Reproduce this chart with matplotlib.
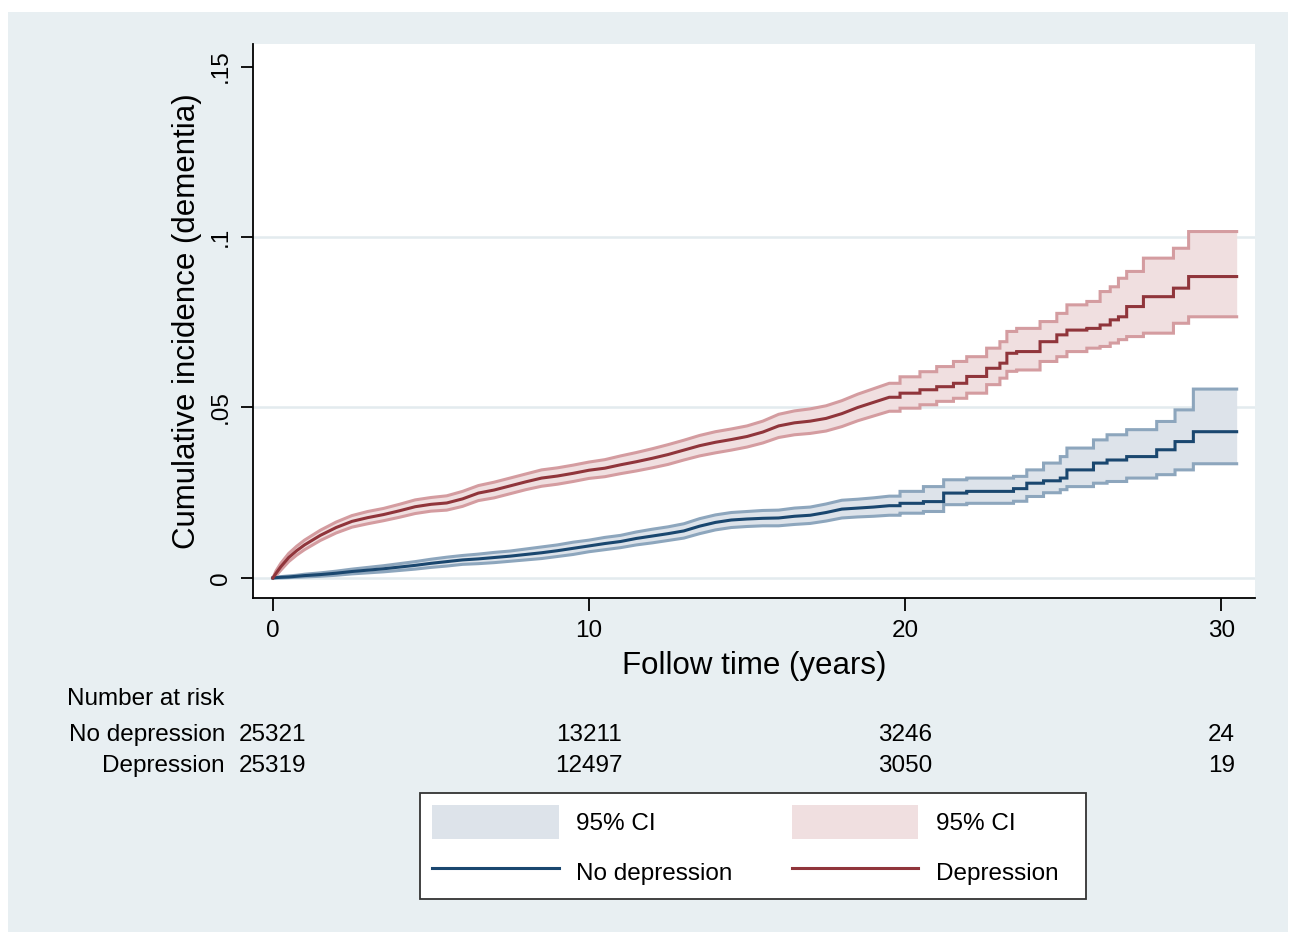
import matplotlib
matplotlib.use("Agg")
import matplotlib.pyplot as plt
from matplotlib.patches import Rectangle, Patch
from matplotlib.lines import Line2D
from matplotlib import transforms

plt.rcParams['font.family'] = ['Liberation Sans', 'DejaVu Sans']

# ---------------- data ----------------
end_time = 30.49

# dense-event part (many small steps -> drawn as a smooth trace)
smooth_t = [0, 0.1, 0.25, 0.5, 0.75, 1.0, 1.5, 2.0, 2.5, 3.0, 3.5, 4.0, 4.5, 5.0, 5.5,
            6.0, 6.5, 7.0, 7.5, 8.0, 8.5, 9.0, 9.5, 10.0, 10.5, 11.0, 11.5, 12.0, 12.5,
            13.0, 13.5, 14.0, 14.5, 15.0, 15.5, 16.0, 16.5, 17.0, 17.5, 18.0, 18.5,
            19.0, 19.5]

dep_est = [0, 0.0014, 0.0033, 0.0060, 0.0080, 0.0097, 0.0125, 0.0148, 0.0166, 0.0177,
           0.0186, 0.0197, 0.0209, 0.0216, 0.0220, 0.0232, 0.0249, 0.0258, 0.0270, 0.0282,
           0.0293, 0.0299, 0.0307, 0.0316, 0.0322, 0.0332, 0.0341, 0.0351, 0.0362, 0.0375,
           0.0388, 0.0398, 0.0406, 0.0415, 0.0428, 0.0446, 0.0455, 0.0460, 0.0468, 0.0482,
           0.0500, 0.0515, 0.0530]
dep_lo = [0, 0.0007, 0.0023, 0.0048, 0.0067, 0.0083, 0.0110, 0.0132, 0.0149, 0.0159,
          0.0168, 0.0178, 0.0189, 0.0196, 0.0199, 0.0210, 0.0227, 0.0235, 0.0247, 0.0259,
          0.0269, 0.0275, 0.0283, 0.0292, 0.0297, 0.0306, 0.0314, 0.0323, 0.0333, 0.0346,
          0.0358, 0.0367, 0.0375, 0.0384, 0.0396, 0.0412, 0.0420, 0.0424, 0.0431, 0.0444,
          0.0461, 0.0475, 0.0489]
dep_hi = [0, 0.0021, 0.0043, 0.0072, 0.0093, 0.0111, 0.0140, 0.0164, 0.0183, 0.0195,
          0.0204, 0.0216, 0.0229, 0.0236, 0.0241, 0.0254, 0.0271, 0.0281, 0.0293, 0.0305,
          0.0317, 0.0323, 0.0331, 0.0340, 0.0347, 0.0358, 0.0368, 0.0379, 0.0391, 0.0404,
          0.0418, 0.0429, 0.0437, 0.0446, 0.0460, 0.0480, 0.0490, 0.0496, 0.0505, 0.0520,
          0.0539, 0.0555, 0.0571]

nodep_est = [0, 0.0001, 0.0002, 0.0003, 0.0005, 0.0007, 0.0010, 0.0014, 0.0019, 0.0023,
             0.0027, 0.0032, 0.0037, 0.0043, 0.0048, 0.0053, 0.0056, 0.0060, 0.0064, 0.0069,
             0.0074, 0.0080, 0.0087, 0.0094, 0.0101, 0.0107, 0.0116, 0.0123, 0.0130, 0.0138,
             0.0152, 0.0163, 0.0170, 0.0173, 0.0175, 0.0176, 0.0181, 0.0184, 0.0192, 0.0202,
             0.0205, 0.0208, 0.0212]
nodep_lo = [0, 0.0000, 0.0000, 0.0001, 0.0002, 0.0003, 0.0005, 0.0008, 0.0012, 0.0015,
            0.0018, 0.0022, 0.0026, 0.0031, 0.0035, 0.0040, 0.0042, 0.0045, 0.0049, 0.0053,
            0.0057, 0.0063, 0.0069, 0.0077, 0.0083, 0.0089, 0.0097, 0.0103, 0.0110, 0.0117,
            0.0130, 0.0141, 0.0148, 0.0151, 0.0153, 0.0153, 0.0157, 0.0160, 0.0167, 0.0176,
            0.0179, 0.0181, 0.0184]
nodep_hi = [0, 0.0002, 0.0004, 0.0006, 0.0008, 0.0011, 0.0015, 0.0020, 0.0026, 0.0031,
            0.0036, 0.0042, 0.0048, 0.0055, 0.0061, 0.0066, 0.0070, 0.0075, 0.0079, 0.0085,
            0.0091, 0.0097, 0.0105, 0.0111, 0.0119, 0.0125, 0.0135, 0.0143, 0.0150, 0.0159,
            0.0174, 0.0185, 0.0192, 0.0195, 0.0198, 0.0199, 0.0205, 0.0208, 0.0217, 0.0228,
            0.0231, 0.0235, 0.0240]

# sparse-event tail (visible steps): jump times and the level after each jump
dep_step_t = [19.84, 20.47, 21.0, 21.53, 21.95, 22.58, 23.0, 23.22, 23.53, 24.27, 24.80,
              25.12, 25.75, 26.17, 26.49, 26.75, 27.01, 27.54, 28.49, 28.97]
dep_step_est = [0.0542, 0.0552, 0.0561, 0.0571, 0.0591, 0.0615, 0.0630, 0.0659, 0.0664,
                0.0693, 0.0713, 0.0727, 0.0732, 0.0742, 0.0757, 0.0766, 0.0796, 0.0825,
                0.0850, 0.0884]
dep_step_lo = [0.0498, 0.0508, 0.0518, 0.0527, 0.0542, 0.0567, 0.0586, 0.0606, 0.0610,
               0.0635, 0.0649, 0.0664, 0.0674, 0.0679, 0.0689, 0.0699, 0.0708, 0.0718,
               0.0747, 0.0766]
dep_step_hi = [0.0590, 0.0605, 0.0620, 0.0635, 0.0649, 0.0674, 0.0693, 0.0723, 0.0732,
               0.0752, 0.0776, 0.0801, 0.0811, 0.0840, 0.0854, 0.0879, 0.0899, 0.0938,
               0.0967, 0.1016]

nodep_step_t = [19.84, 20.58, 21.22, 21.95, 23.43, 23.85, 24.38, 24.91, 25.12, 25.96,
                26.39, 27.01, 27.96, 28.54, 29.12]
nodep_step_est = [0.0219, 0.0224, 0.0249, 0.0254, 0.0262, 0.0278, 0.0285, 0.0293, 0.0317,
                  0.0337, 0.0346, 0.0356, 0.0376, 0.0400, 0.0429]
nodep_step_lo = [0.0190, 0.0195, 0.0215, 0.0219, 0.0225, 0.0239, 0.0250, 0.0259, 0.0268,
                 0.0278, 0.0283, 0.0293, 0.0303, 0.0317, 0.0335]
nodep_step_hi = [0.0254, 0.0268, 0.0288, 0.0293, 0.0298, 0.0317, 0.0337, 0.0356, 0.0381,
                 0.0405, 0.0420, 0.0435, 0.0459, 0.0493, 0.0554]

x_ticks = [0, 10, 20, 30]
y_ticks = [0, 0.05, 0.10, 0.15]
y_tick_labels = ["0", ".05", ".1", ".15"]
grid_vals = [0, 0.05, 0.10]

risk_times = [0, 10, 20, 30]
risk_groups = ["No depression", "Depression"]
risk_nodep = [25321, 13211, 3246, 24]
risk_dep = [25319, 12497, 3050, 19]


def build_curve(t_s, v_s, t_j, v_j, t_end):
    """Join the dense part with the explicit step corners of the tail."""
    x, y = list(t_s), list(v_s)
    for tj, vj in zip(t_j, v_j):
        x += [tj, tj]
        y += [y[-1], vj]
    x.append(t_end)
    y.append(y[-1])
    return x, y


# ---------------- style ----------------
BG = "#e8eff2"
GRID = "#e3ebee"
NAVY = "#1a476f"
MAROON = "#90353b"
NAVY_CI_LINE = "#8da6bd"
NAVY_CI_FILL = "#dde3ea"
MAROON_CI_LINE = "#d49ca0"
MAROON_CI_FILL = "#f0dfe0"

W, H = 1292, 935
fig = plt.figure(figsize=(W / 100, H / 100), dpi=100, facecolor="white")
fig.patches.append(Rectangle((8 / W, 3 / H), (1288 - 8) / W, (932 - 12) / H,
                             transform=fig.transFigure, facecolor=BG,
                             edgecolor="none", zorder=-10))

ax = fig.add_axes([253 / W, 1 - 598 / H, (1255 - 253) / W, (598 - 44) / H])
ax.set_facecolor("white")
ax.set_xlim(-0.63, 31.07)
ax.set_ylim(-0.00587, 0.1566)

for g in grid_vals:
    ax.axhline(g, color=GRID, lw=1.8, zorder=0)

lw = 2.2
groups = [
    (nodep_est, nodep_lo, nodep_hi, nodep_step_t, nodep_step_est, nodep_step_lo,
     nodep_step_hi, NAVY, NAVY_CI_LINE, NAVY_CI_FILL),
    (dep_est, dep_lo, dep_hi, dep_step_t, dep_step_est, dep_step_lo,
     dep_step_hi, MAROON, MAROON_CI_LINE, MAROON_CI_FILL),
]
for est, lo, hi, st, sest, slo, shi, c_line, c_ci, c_fill in groups:
    x, y_est = build_curve(smooth_t, est, st, sest, end_time)
    _, y_lo = build_curve(smooth_t, lo, st, slo, end_time)
    _, y_hi = build_curve(smooth_t, hi, st, shi, end_time)
    ax.fill_between(x, y_lo, y_hi, color=c_fill, lw=0, zorder=1)
    ax.plot(x, y_lo, color=c_ci, lw=lw, zorder=2, solid_joinstyle="miter")
    ax.plot(x, y_hi, color=c_ci, lw=lw, zorder=2, solid_joinstyle="miter")
    ax.plot(x, y_est, color=c_line, lw=lw, zorder=3, solid_joinstyle="miter")

for s in ["top", "right"]:
    ax.spines[s].set_visible(False)
for s in ["left", "bottom"]:
    ax.spines[s].set_linewidth(1.3)
    ax.spines[s].set_color("black")

ax.set_xticks(x_ticks)
ax.set_xticklabels([str(v) for v in x_ticks])
ax.set_yticks(y_ticks)
ax.set_yticklabels(y_tick_labels, rotation=90, va="center")
ax.tick_params(axis="both", direction="out", length=9, width=1.3, labelsize=17.5, colors="black")
ax.tick_params(axis="x", pad=7)
ax.tick_params(axis="y", pad=6)

ax.set_xlabel("Follow time (years)", fontsize=22.5, labelpad=6)
ax.set_ylabel("Cumulative incidence (dementia)", fontsize=22.5, labelpad=6)

# Number at risk table
fs = 17.5
fig.text(67 / W, 1 - 699 / H, "Number at risk", fontsize=fs, ha="left", va="center")
trans = transforms.blended_transform_factory(ax.transData, fig.transFigure)
row_y = [1 - 735 / H, 1 - 766 / H]
for name, vals, yy in zip(risk_groups, [risk_nodep, risk_dep], row_y):
    fig.text(225 / W, yy, name, fontsize=fs, ha="right", va="center")
    for tt, v in zip(risk_times, vals):
        ax.text(tt, yy, str(v), fontsize=fs, ha="center", va="center",
                transform=trans, clip_on=False)

# Legend (frame drawn as its own box)
fig.patches.append(Rectangle((420 / W, 1 - 899 / H), (1086 - 420) / W, (899 - 793) / H,
                             transform=fig.transFigure, facecolor="white",
                             edgecolor="#333333", lw=1.3, zorder=-5))
handles = [Patch(facecolor=NAVY_CI_FILL, edgecolor="none"),
           Line2D([], [], color=NAVY, lw=lw),
           Patch(facecolor=MAROON_CI_FILL, edgecolor="none"),
           Line2D([], [], color=MAROON, lw=lw)]
labels = ["95% CI", "No depression", "95% CI", "Depression"]
leg = fig.legend(handles, labels, ncol=2, loc="upper left",
                 bbox_to_anchor=(420 / W, 1 - 793 / H), bbox_transform=fig.transFigure,
                 fontsize=fs, frameon=False, borderaxespad=0,
                 handlelength=5.2, handleheight=1.75, labelspacing=0.68,
                 handletextpad=0.72, columnspacing=2.45, borderpad=0.5)

fig.savefig("out.png", dpi=100, facecolor="white")
